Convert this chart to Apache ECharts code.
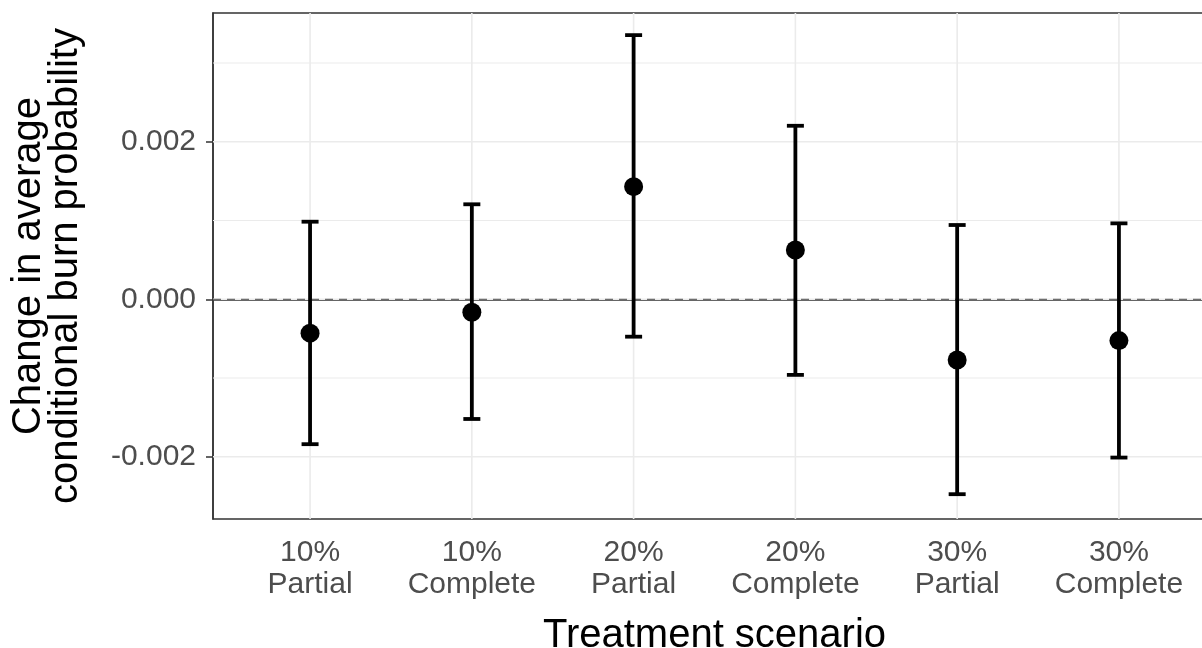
<!DOCTYPE html>
<html>
<head>
<meta charset="utf-8">
<script src="https://cdn.jsdelivr.net/npm/echarts@6/dist/echarts.min.js"></script>
<style>
html,body{margin:0;padding:0;background:#fff;}
#chart{width:1202px;height:648px;}
</style>
</head>
<body>
<div id="chart"></div>
<script>
// Data
var categories = ['10%\nPartial', '10%\nComplete', '20%\nPartial', '20%\nComplete', '30%\nPartial', '30%\nComplete'];
var estimates = [-0.00043, -0.000165, 0.00143, 0.000626, -0.00077, -0.000525];
var lowerCI = [-0.00184, -0.00152, -0.000475, -0.00096, -0.002475, -0.00201];
var upperCI = [0.000985, 0.001206, 0.003354, 0.002203, 0.000943, 0.000964];
var yTicks = [-0.002, 0, 0.002];
var yMinorGrid = [-0.001, 0.001, 0.003];
var refLine = 0;

var font = 'Liberation Sans, Arial, sans-serif';
var positions = categories.map(function (c, i) { return i + 1; });

var chart = echarts.init(document.getElementById('chart'), null, {renderer: 'canvas'});

// horizontal grid lines: [value, lineWidth]
var hGridData = yTicks.map(function (v) { return [v, 1.6]; })
  .concat(yMinorGrid.map(function (v) { return [v, 1]; }));

function clipRect(params) {
  var cs = params.coordSys;
  return {x: cs.x, y: cs.y, w: cs.width, h: cs.height};
}

var option = {
  backgroundColor: '#ffffff',
  animation: false,
  grid: {
    left: 213, top: 13, width: 1003, height: 506,
    outerBoundsMode: 'none', containLabel: false,
    show: true, borderColor: '#333333', borderWidth: 1.5, backgroundColor: '#ffffff'
  },
  xAxis: {
    type: 'value', min: 0.4, max: 6.6,
    name: 'Treatment scenario', nameLocation: 'middle', nameGap: 97,
    nameTextStyle: {fontFamily: font, fontSize: 40, color: '#000000'},
    axisLine: {show: true, lineStyle: {color: '#333333', width: 1.5}},
    axisTick: {show: true, length: 7, customValues: positions, lineStyle: {color: '#333333', width: 1.5}},
    axisLabel: {
      show: true, customValues: positions, margin: 18,
      fontFamily: font, fontSize: 30, lineHeight: 32, color: '#4D4D4D',
      formatter: function (v) { return categories[Math.round(v) - 1] || ''; }
    },
    splitLine: {show: false}
  },
  yAxis: {
    type: 'value', min: -0.00279, max: 0.003635,
    name: 'Change in average\nconditional burn probability', nameLocation: 'middle', nameRotate: 90, nameGap: 129,
    nameTextStyle: {fontFamily: font, fontSize: 40, lineHeight: 37, color: '#000000'},
    axisLine: {show: true, lineStyle: {color: '#333333', width: 1.5}},
    axisTick: {show: true, length: 7, customValues: yTicks, lineStyle: {color: '#333333', width: 1.5}},
    axisLabel: {
      show: true, customValues: yTicks, margin: 17,
      fontFamily: font, fontSize: 30, color: '#4D4D4D',
      formatter: function (v) { return v.toFixed(3); }
    },
    splitLine: {show: false}
  },
  series: [
    {
      // horizontal grid lines
      type: 'custom', z: 1, silent: true,
      data: hGridData,
      encode: {y: 0},
      renderItem: function (params, api) {
        var r = clipRect(params);
        var p = api.coord([1, api.value(0)]);
        return {type: 'line', shape: {x1: r.x, y1: p[1], x2: r.x + r.w, y2: p[1]},
          style: {stroke: '#EBEBEB', lineWidth: api.value(1)}};
      }
    },
    {
      // vertical grid lines at categories
      type: 'custom', z: 1, silent: true,
      data: positions.map(function (p) { return [p]; }),
      encode: {x: 0},
      renderItem: function (params, api) {
        var r = clipRect(params);
        var p = api.coord([api.value(0), 0]);
        return {type: 'line', shape: {x1: p[0], y1: r.y, x2: p[0], y2: r.y + r.h},
          style: {stroke: '#EBEBEB', lineWidth: 1.6}};
      }
    },
    {
      // dashed reference line
      type: 'custom', z: 2, silent: true,
      data: [[refLine]],
      encode: {y: 0},
      renderItem: function (params, api) {
        var r = clipRect(params);
        var p = api.coord([1, api.value(0)]);
        var y = Math.round(p[1]) + 0.5;
        return {type: 'line', shape: {x1: r.x, y1: y, x2: r.x + r.w, y2: y},
          style: {stroke: '#6E6E6E', lineWidth: 1.5, lineDash: [8, 6]}};
      }
    },
    {
      type: 'custom', z: 3, silent: true,
      data: positions.map(function (p, i) { return [p, lowerCI[i], upperCI[i]]; }),
      encode: {x: 0, y: [1, 2]},
      renderItem: function (params, api) {
        var x = api.value(0);
        var lo = api.coord([x, api.value(1)]);
        var hi = api.coord([x, api.value(2)]);
        var half = 8.5;
        var style = {stroke: '#000000', lineWidth: 3.8, fill: null};
        return {
          type: 'group',
          children: [
            {type: 'line', shape: {x1: lo[0], y1: lo[1], x2: hi[0], y2: hi[1]}, style: style},
            {type: 'line', shape: {x1: lo[0] - half, y1: lo[1], x2: lo[0] + half, y2: lo[1]}, style: style},
            {type: 'line', shape: {x1: hi[0] - half, y1: hi[1], x2: hi[0] + half, y2: hi[1]}, style: style}
          ]
        };
      }
    },
    {
      type: 'scatter', z: 4, silent: true,
      symbol: 'circle', symbolSize: 19,
      itemStyle: {color: '#000000', opacity: 1},
      data: positions.map(function (p, i) { return [p, estimates[i]]; })
    }
  ]
};
chart.setOption(option);
</script>
</body>
</html>
